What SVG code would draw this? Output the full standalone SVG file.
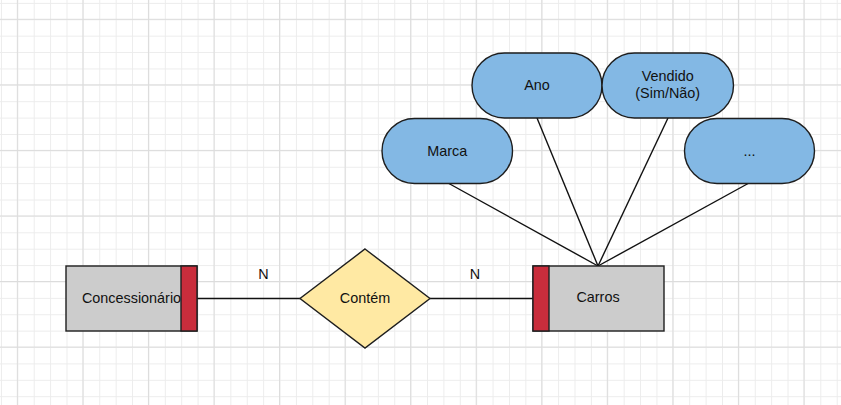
<svg xmlns="http://www.w3.org/2000/svg" width="841" height="405" viewBox="0 0 841 405">
<style>
.sh{stroke:#1e1e1e;stroke-width:1.4}
.ent{fill:#cccccc}
.key{fill:#c92d3c}
.rel{fill:#ffe9a3}
.att{fill:#83b8e4}
.t{font-family:"Liberation Sans",Arial,sans-serif;font-size:14.4px;fill:#111111;text-anchor:middle}
.ln{stroke:#111;stroke-width:1.4;fill:none}
</style>
<defs>
<pattern id="minor" patternUnits="userSpaceOnUse" x="0.95" y="2.9" width="16.3875" height="16.3875">
<path d="M0.5 0V16.3875M0 0.5H16.3875" stroke="#ececec" stroke-width="1" fill="none"/>
</pattern>
<pattern id="major" patternUnits="userSpaceOnUse" x="16.85" y="18.8" width="65.55" height="65.55">
<path d="M0.5 0V65.55M0 0.5H65.55" stroke="#dcdcdc" stroke-width="1" fill="none"/>
</pattern>
</defs>
<rect width="841" height="405" fill="#ffffff"/>
<rect width="841" height="405" fill="url(#minor)"/>
<rect width="841" height="405" fill="url(#major)"/>

<g id="connectors">
<line class="ln" x1="197" y1="298.5" x2="300" y2="298.5"/>
<line class="ln" x1="430" y1="298.5" x2="533" y2="298.5"/>
<line class="ln" x1="448" y1="183" x2="598" y2="266"/>
<line class="ln" x1="537" y1="118" x2="598" y2="266"/>
<line class="ln" x1="668" y1="118" x2="598" y2="266"/>
<line class="ln" x1="749" y1="183" x2="598" y2="266"/>
<text class="t" x="263.5" y="279">N</text>
<text class="t" x="475" y="279">N</text>
</g>

<g id="concessionario">
<rect class="sh ent" x="66" y="266" width="131" height="65"/>
<text class="t" x="131.5" y="302.5">Concessionário</text>
<rect class="sh key" x="181" y="266" width="16" height="65"/>
</g>

<g id="contem">
<polygon class="sh rel" points="365,249 430,298.5 365,348 300,298.5"/>
<text class="t" x="365" y="302.7">Contém</text>
</g>

<g id="carros">
<rect class="sh ent" x="533" y="266" width="131" height="65"/>
<rect class="sh key" x="533" y="266" width="16" height="65"/>
<text class="t" x="598" y="302">Carros</text>
</g>

<g id="marca">
<rect class="sh att" x="382" y="118.5" width="130.5" height="65" rx="32.5" ry="32.5"/>
<text class="t" x="447.2" y="155.5">Marca</text>
</g>

<g id="ano">
<rect class="sh att" x="472" y="53" width="130" height="65" rx="32.5" ry="32.5"/>
<text class="t" x="537" y="89.5">Ano</text>
</g>

<g id="vendido">
<rect class="sh att" x="602" y="53" width="131.5" height="65" rx="32.5" ry="32.5"/>
<text class="t" x="667.7" y="80.5">Vendido</text>
<text class="t" x="667.7" y="97.5">(Sim/Não)</text>
</g>

<g id="outros">
<rect class="sh att" x="684.5" y="118.5" width="130" height="65" rx="32.5" ry="32.5"/>
<text class="t" x="749.5" y="155.5">...</text>
</g>
</svg>
